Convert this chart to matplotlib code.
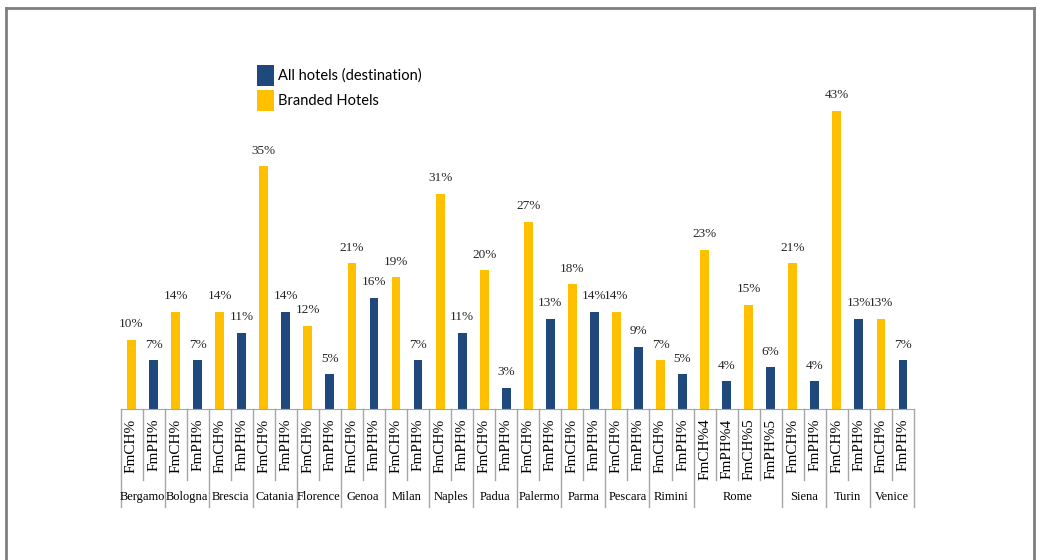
import matplotlib
matplotlib.use("Agg")
import matplotlib.pyplot as plt
from matplotlib.lines import Line2D
import matplotlib.transforms as mtransforms

# one entry per CH/PH pair (Rome has two pairs)
pair_city = ['Bergamo', 'Bologna', 'Brescia', 'Catania', 'Florence', 'Genoa', 'Milan',
             'Naples', 'Padua', 'Palermo', 'Parma', 'Pescara', 'Rimini', 'Rome', 'Rome',
             'Siena', 'Turin', 'Venice']
pair_suffix = [''] * 13 + ['4', '5'] + [''] * 3
branded = [10, 14, 14, 35, 12, 21, 19, 31, 20, 27, 18, 14, 7, 23, 15, 21, 43, 13]
all_hotels = [7, 7, 11, 14, 5, 16, 7, 11, 3, 13, 14, 9, 5, 4, 6, 4, 13, 7]

YELLOW = '#FFC000'
BLUE = '#1F497D'
GRID = '#A6A6A6'
SERIF = 'Liberation Serif'

W, H = 1037, 560
fig = plt.figure(figsize=(W / 100, H / 100), dpi=100)
ax_l, ax_r, ax_b, ax_t = 120.5, 914, 409, 62.5
ax = fig.add_axes([ax_l / W, (H - ax_b) / H, (ax_r - ax_l) / W, (ax_b - ax_t) / H])

n = len(pair_city)
x_ch = [2 * i for i in range(n)]
x_ph = [2 * i + 1 for i in range(n)]
b1 = ax.bar(x_ch, [v / 100 for v in branded], width=0.4, color=YELLOW, label='Branded Hotels')
b2 = ax.bar(x_ph, [v / 100 for v in all_hotels], width=0.4, color=BLUE, label='All hotels (destination)')

for x, v in list(zip(x_ch, branded)) + list(zip(x_ph, all_hotels)):
    ax.annotate(f'{v}%', (x, v / 100), xytext=(0, 7), textcoords='offset points',
                ha='center', va='bottom', fontsize=9.5, family=SERIF, color='#262626')

ax.set_xlim(-0.5, 2 * n - 0.5)
ax.set_ylim(0, 0.5)
ax.set_yticks([])
for s in ['left', 'right', 'top']:
    ax.spines[s].set_visible(False)
ax.spines['bottom'].set_color(GRID)

ticks = []
labels = []
for i in range(n):
    ticks += [x_ch[i], x_ph[i]]
    labels += ['FmCH%' + pair_suffix[i], 'FmPH%' + pair_suffix[i]]
ax.set_xticks(ticks)
ax.set_xticklabels(labels, rotation=90, fontsize=11, family=SERIF)
ax.tick_params(axis='x', length=0, pad=7)

# category separators
trans = mtransforms.blended_transform_factory(ax.transData, ax.transAxes)
axh = ax_b - ax_t
short_y = -(480 - ax_b) / axh
long_y = -(507 - ax_b) / axh
city_y = -(497 - ax_b) / axh
groups = []
for i, c in enumerate(pair_city):
    if groups and groups[-1][0] == c:
        groups[-1][2] = 2 * i + 1
    else:
        groups.append([c, 2 * i, 2 * i + 1])
for c, first, last in groups:
    for b in range(first + 1, last + 1):
        ax.add_line(Line2D([b - 0.5, b - 0.5], [0, short_y], transform=trans,
                           color=GRID, lw=1, clip_on=False))
    ax.add_line(Line2D([first - 0.5, first - 0.5], [0, long_y], transform=trans,
                       color=GRID, lw=1, clip_on=False))
    ax.text((first + last) / 2, city_y, c, transform=trans, ha='center', va='center',
            fontsize=9, family=SERIF)
ax.add_line(Line2D([2 * n - 0.5, 2 * n - 0.5], [0, long_y], transform=trans,
                   color=GRID, lw=1, clip_on=False))

fs = 10.5
fpx = fs * 100 / 72
fig.legend(handles=[b2, b1], loc='upper left', bbox_to_anchor=(257 / W, 1 - 65 / H),
           frameon=False, prop={'family': 'Lato', 'size': fs},
           handlelength=17 / fpx, handleheight=1.84,
           handletextpad=0.3, labelspacing=0.25, borderpad=0, borderaxespad=0)

# outer border
for xs, ys in [([6, 6], [H, 8]), ([6, 1034], [8, 8]), ([1034, 1034], [8, H])]:
    fig.add_artist(Line2D([x / W for x in xs], [1 - y / H for y in ys],
                          transform=fig.transFigure, color='#7F7F7F', lw=2))

fig.savefig('out.png', dpi=100)
